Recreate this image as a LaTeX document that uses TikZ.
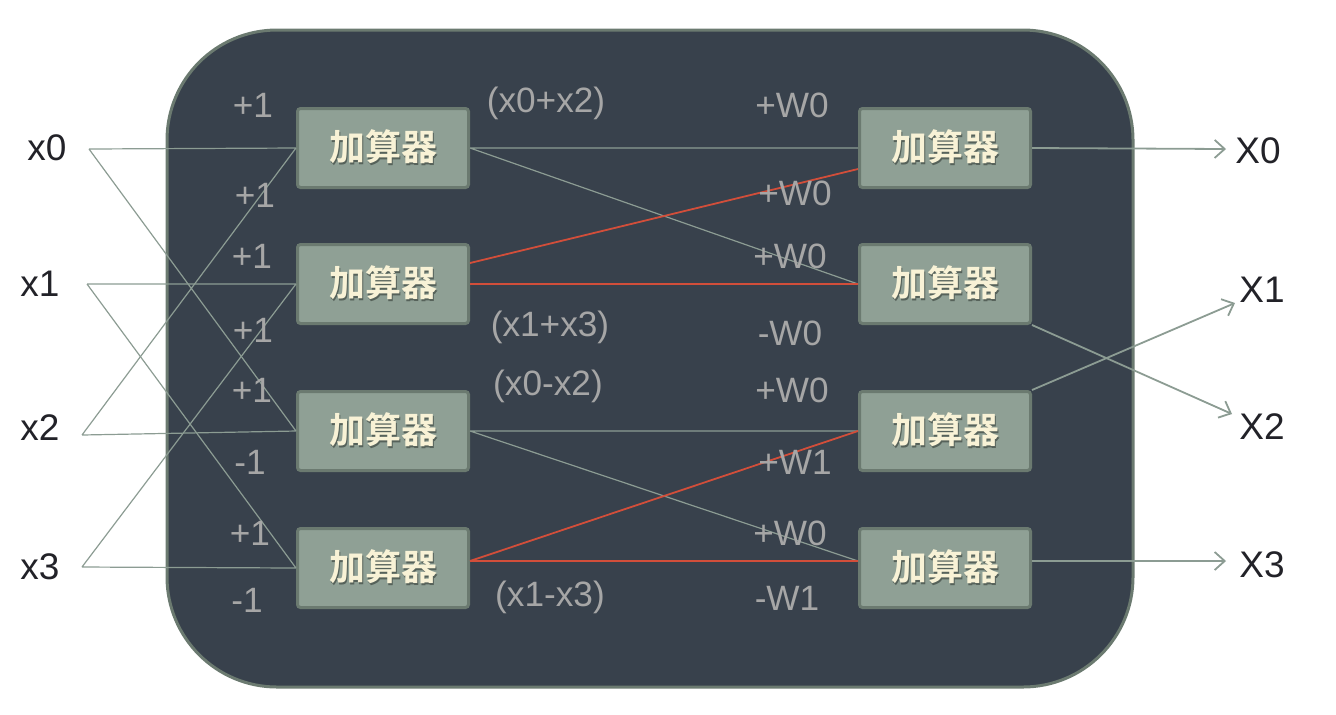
\documentclass[tikz,border=0pt]{standalone}
\usepackage{fontspec}
\setmainfont{Liberation Sans}
\newfontfamily\cjkbold{Noto Sans CJK SC Bold}
\usetikzlibrary{arrows.meta,calc,positioning}
\definecolor{panel}{HTML}{38414C}
\definecolor{panelrim}{HTML}{6B7A70}
\definecolor{boxfill}{HTML}{8FA095}
\definecolor{wiregray}{HTML}{8C9C93}
\definecolor{hotred}{HTML}{D24E3A}
\definecolor{coefgray}{HTML}{A6A6A6}
\definecolor{cream}{HTML}{F8F2D6}
\definecolor{ink}{HTML}{222228}
\tikzset{%
	adder/.style   = {draw=panelrim, fill=boxfill, line width=1.5pt, rounded corners=1.5pt, minimum width=85.5pt, minimum height=39.5pt, inner sep=0pt},
	wire/.style    = {draw=wiregray, line width=0.6pt},
	hotwire/.style = {draw=hotred, line width=0.9pt},
	outwire/.style = {draw=wiregray, line width=0.9pt, -{Straight Barb[length=5pt,width=9pt]}},
	coef/.style    = {text=coefgray, font=\fontsize{17.6}{17.6}\selectfont},
	sig/.style     = {text=ink, font=\fontsize{18.5}{18.5}\selectfont},
}
\newcommand{\adderlabel}{\cjkbold\fontsize{18}{18}\selectfont\makebox[0pt][l]{\hspace{0.9pt}\raisebox{-0.9pt}{\textcolor{panelrim!80!black}{加算器}}}\textcolor{cream}{加算器}}

\begin{document}
\begin{tikzpicture}[x=0.5pt,y=-0.5pt]
	\useasboundingbox (0,0) rectangle (1336,714);
	\draw[draw=panelrim,fill=panel,line width=1.5pt,rounded corners=55pt] (167,30) rectangle (1133,687);
	
	\foreach \i/\y in {0/148,1/284,2/431,3/568} {
		\node[adder] (l\i) at (383,\y) {\adderlabel};
		\node[adder] (r\i) at (945,\y) {\adderlabel};
	}
	
	\foreach \i/\x/\y/\ax/\ay in {0/47/148/89/149,1/40/284/87/284,2/40/428/82/435,3/40/567/82/567} {
		\node[sig] (in\i) at (\x,\y) {x\i};
		\coordinate (a\i) at (\ax,\ay);
	}
	\foreach \i/\x/\y/\bx/\by in {0/1258/151/1226/149,1/1262/290/1235/303,2/1262/427/1232/414,3/1262/565/1226/561} {
		\node[sig] (out\i) at (\x,\y) {X\i};
		\coordinate (b\i) at (\bx,\by);
	}
	
	\draw[wire] (a0) -- (l0.west) (a0) -- (l2.west) (a2) -- (l0.west) (a2) -- (l2.west);
	\draw[wire] (a1) -- (l1.west) (a1) -- (l3.west) (a3) -- (l1.west) (a3) -- (l3.west);
	\draw[wire] (l0.east) -- (r0.west) (l0.east) -- (r1.west) (l2.east) -- (r2.west) (l2.east) -- ($(r3.west)+(0,-7)$);
	\draw[hotwire] (l1.east) -- (r1.west) ($(l1.east)+(0,-21)$) -- ($(r0.west)+(0,21)$);
	\draw[hotwire] ($(l3.east)+(0,-7)$) -- ($(r3.west)+(0,-7)$) ($(l3.east)+(0,-7)$) -- (r2.west);
	
	\draw[outwire] (r0.east) -- (b0);
	\draw[outwire] (r1.south east) -- (b2);
	\draw[outwire] (r2.north east) -- (b1);
	\draw[outwire] ($(r3.east)+(0,-7)$) -- (b3);
	
	\foreach \x/\y/\t [count=\k] in {253/105/+1,255/195/+1,252/256/+1,253/330/+1,252/390/+1,250/462/-1,250/533/+1,247/600/-1} \node[coef] (w\k) at (\x,\y) {\t};
	
	\foreach \x/\y/\t [count=\k] in {546/103/{(x0+x2)},550/327/{(x1+x3)},548/386/{(x0-x2)},550/597/{(x1-x3)}} \node[coef] (s\k) at (\x,\y) {\t};
	
	\foreach \x/\y/\t [count=\k] in {792/105/+W0,795/193/+W0,790/256/+W0,790/333/-W0,792/390/+W0,795/462/+W1,790/533/+W0,787/598/-W1} \node[coef] (t\k) at (\x,\y) {\t};
\end{tikzpicture}
\end{document}
